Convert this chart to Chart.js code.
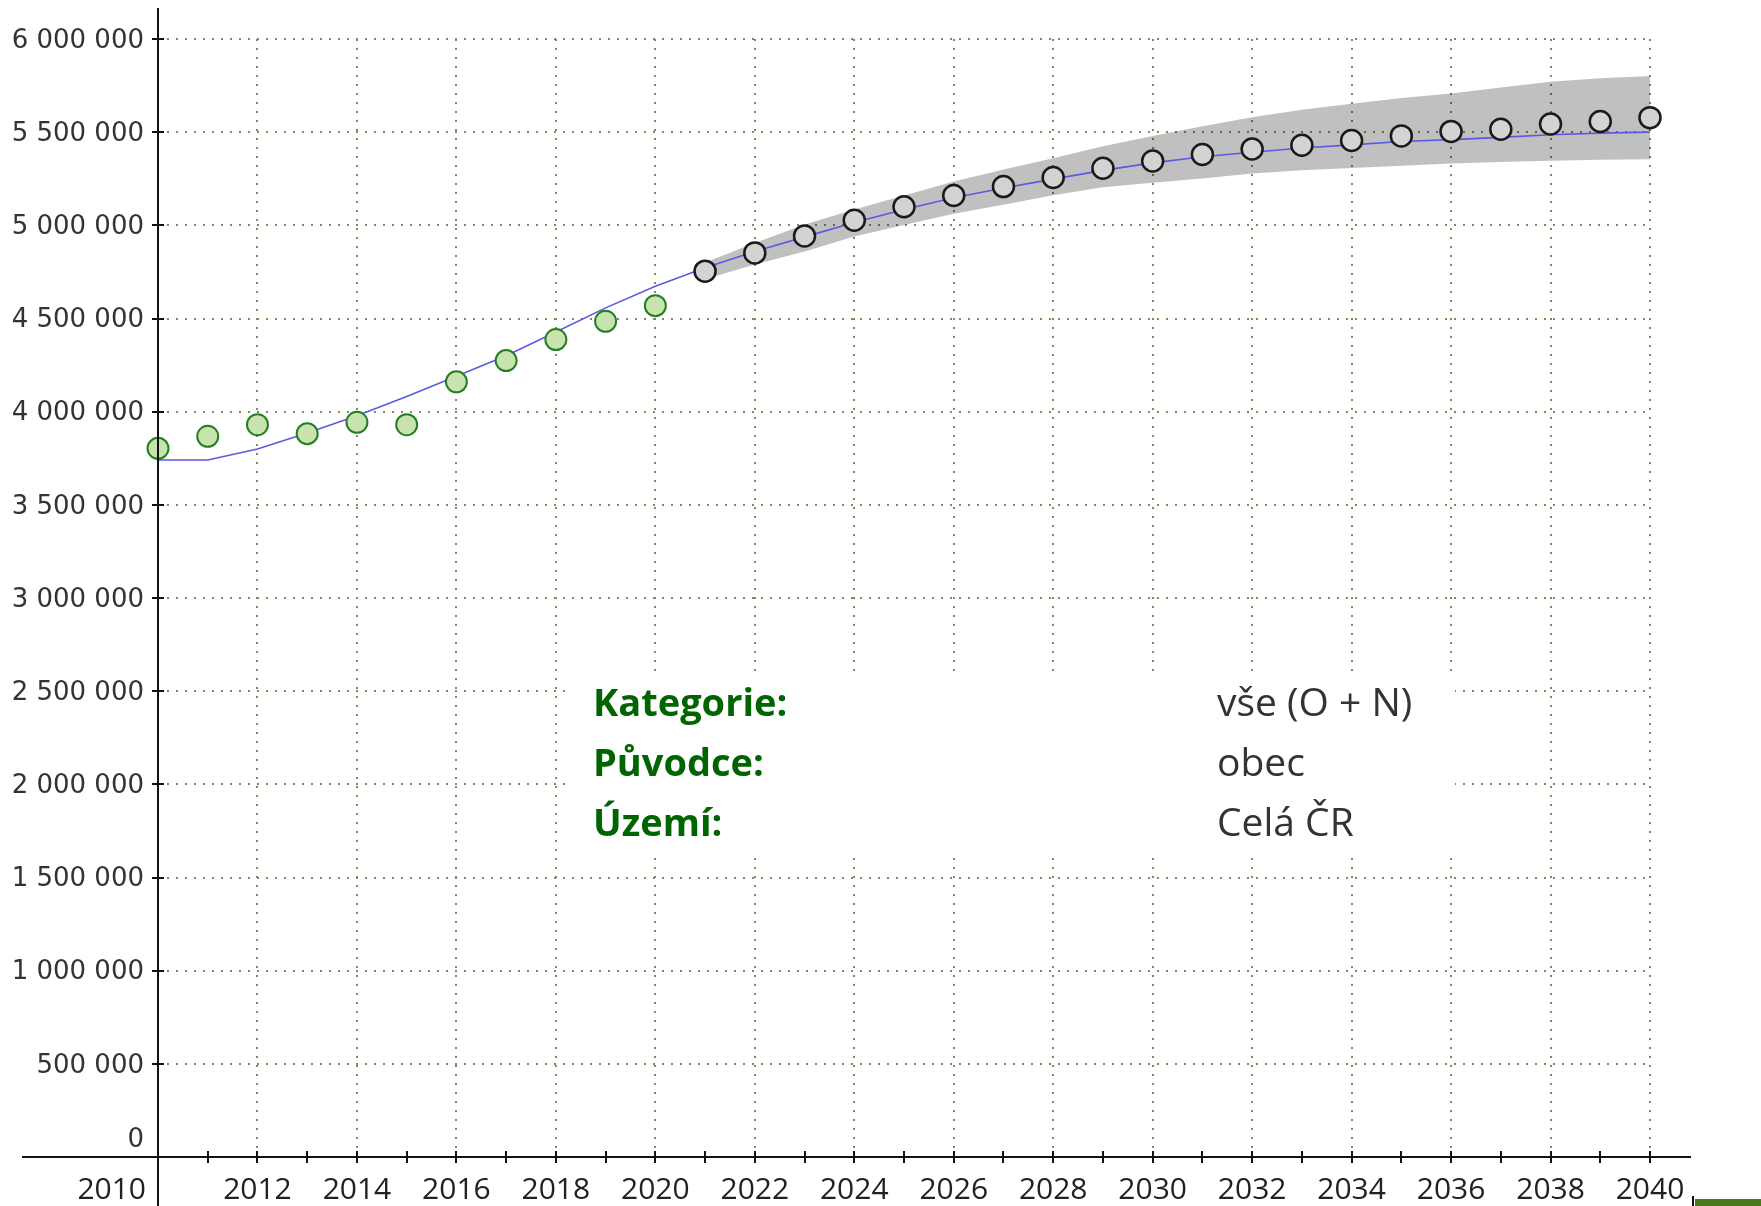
<!DOCTYPE html>
<html>
<head>
<meta charset="utf-8">
<script src="https://cdn.jsdelivr.net/npm/chart.js@4/dist/chart.umd.min.js"></script>
<style>
html,body{margin:0;padding:0;background:#fff;overflow:hidden}
canvas{display:block}
</style>
</head>
<body>
<canvas id="c" width="1761" height="1206"></canvas>
<script>
// ---- data ----
const years = [2010,2011,2012,2013,2014,2015,2016,2017,2018,2019,2020,2021,2022,2023,2024,2025,2026,2027,2028,2029,2030,2031,2032,2033,2034,2035,2036,2037,2038,2039,2040];
const histYears = [2010,2011,2012,2013,2014,2015,2016,2017,2018,2019,2020];
const histValues = [3803000,3868000,3930000,3882000,3943000,3930000,4160000,4274000,4387000,4485000,4569000];
const forecastYears = [2021,2022,2023,2024,2025,2026,2027,2028,2029,2030,2031,2032,2033,2034,2035,2036,2037,2038,2039,2040];
const forecastValues = [4754000,4852000,4943000,5027000,5100000,5160000,5208000,5257000,5306000,5345000,5380000,5410000,5430000,5455000,5480000,5504000,5516000,5544000,5557000,5578000];
const trendValues = [3741000,3741000,3800000,3886000,3978000,4082000,4190000,4300000,4428000,4557000,4673000,4772000,4860000,4938000,5015000,5085000,5148000,5200000,5248000,5295000,5335000,5368000,5392000,5415000,5432000,5450000,5460000,5472000,5486000,5495000,5500000];
const bandUpper = [4800000,4905000,5005000,5085000,5160000,5235000,5300000,5360000,5425000,5480000,5532000,5580000,5620000,5653000,5683000,5708000,5740000,5770000,5790000,5802000];
const bandLower = [4710000,4790000,4860000,4940000,5002000,5062000,5110000,5162000,5205000,5228000,5252000,5278000,5296000,5308000,5320000,5332000,5340000,5347000,5352000,5355000];
const xTickLabels = ['2010','2012','2014','2016','2018','2020','2022','2024','2026','2028','2030','2032','2034','2036','2038','2040'];
const yTickValues = [0,500000,1000000,1500000,2000000,2500000,3000000,3500000,4000000,4500000,5000000,5500000,6000000];
const yTickLabels = ['0','500 000','1 000 000','1 500 000','2 000 000','2 500 000','3 000 000','3 500 000','4 000 000','4 500 000','5 000 000','5 500 000','6 000 000'];
const infoLabels = ['Kategorie:','Původce:','Území:'];
const infoValues = ['vše (O + N)','obec','Celá ČR'];

// ---- styles ----
const DOT = '#86865f';
const Y_FONT = {family:'"DejaVu Sans"', size:26};
const X_FONT = {family:'"Open Sans"', size:30};

const pts = (xs, vs) => xs.map((x,i) => ({x:x, y:vs[i]}));

const decor = {
  id:'decor',
  beforeDatasetsDraw(chart){
    const ctx = chart.ctx;
    ctx.save();
    ctx.fillStyle = '#ffffff';
    ctx.fillRect(572, 672, 883, 184);
    ctx.textBaseline = 'alphabetic';
    ctx.textAlign = 'left';
    infoLabels.forEach((t,i) => {
      ctx.font = 'bold 38px "Open Sans"';
      ctx.fillStyle = '#006400';
      ctx.fillText(t, 593, 716 + i*60);
      ctx.font = '39px "Open Sans"';
      ctx.fillStyle = '#333333';
      ctx.fillText(infoValues[i], 1217, 716 + i*60);
    });
    ctx.restore();
  },
  afterDraw(chart){
    const {ctx, scales:{x, y}} = chart;
    const x0 = Math.round(x.getPixelForValue(years[0]));
    const y0 = Math.round(y.getPixelForValue(0));
    ctx.save();
    ctx.strokeStyle = '#111111';
    ctx.lineWidth = 2;
    ctx.beginPath();
    ctx.moveTo(x0, 8); ctx.lineTo(x0, 1206);
    ctx.moveTo(22, y0); ctx.lineTo(1691, y0);
    ctx.stroke();
    ctx.beginPath();
    yTickValues.forEach(v => {
      const py = Math.round(y.getPixelForValue(v));
      ctx.moveTo(x0 - 6, py); ctx.lineTo(x0 + 6, py);
    });
    years.slice(1).forEach(yr => {
      const px = Math.round(x.getPixelForValue(yr));
      ctx.moveTo(px, y0 - 6); ctx.lineTo(px, y0 + 6);
    });
    ctx.stroke();
    // labels that sit beside the axis crossing
    ctx.textAlign = 'right';
    ctx.textBaseline = 'middle';
    ctx.font = '26px "DejaVu Sans"';
    ctx.fillStyle = '#333333';
    ctx.fillText(yTickLabels[0], x0 - 14, y0 - 17);
    ctx.font = '30px "Open Sans"';
    ctx.fillStyle = '#222222';
    ctx.fillText(xTickLabels[0], x0 - 12, y0 + 33);
    // corner mark
    ctx.fillStyle = '#4a7a1c';
    ctx.fillRect(1695, 1199, 66, 7);
    ctx.fillStyle = '#111111';
    ctx.fillRect(1692, 1196, 2, 10);
    ctx.restore();
  }
};

new Chart(document.getElementById('c'), {
  type:'line',
  data:{
    datasets:[
      {
        label:'Skutečnost',
        data: pts(histYears, histValues),
        showLine:false,
        clip:false,
        pointStyle:'circle',
        pointRadius:10.5,
        pointBackgroundColor:'#c8e3ae',
        pointBorderColor:'#237f23',
        pointBorderWidth:2,
        order:0
      },
      {
        label:'Prognóza',
        data: pts(forecastYears, forecastValues),
        showLine:false,
        clip:false,
        pointStyle:'circle',
        pointRadius:10.5,
        pointBackgroundColor:'#d3d3d3',
        pointBorderColor:'#1a1a1a',
        pointBorderWidth:2.5,
        order:0
      },
      {
        label:'Trend',
        data: pts(years, trendValues),
        borderColor:'#5a5ae4',
        borderWidth:1.6,
        pointRadius:0,
        tension:0,
        fill:false,
        order:1
      },
      {
        label:'Horní mez',
        data: pts(forecastYears, bandUpper),
        borderWidth:0,
        borderColor:'rgba(0,0,0,0)',
        backgroundColor:'rgba(0,0,0,0.247)',
        pointRadius:0,
        fill:'+1',
        order:2
      },
      {
        label:'Dolní mez',
        data: pts(forecastYears, bandLower),
        borderWidth:0,
        borderColor:'rgba(0,0,0,0)',
        pointRadius:0,
        fill:false,
        order:2
      }
    ]
  },
  options:{
    responsive:false,
    animation:false,
    devicePixelRatio:1,
    layout:{padding:{top:39, right:111, left:0, bottom:0}},
    plugins:{legend:{display:false}, tooltip:{enabled:false}},
    scales:{
      x:{
        type:'linear',
        min:2010, max:2040,
        afterFit(s){ s.height = 49; },
        ticks:{
          stepSize:1, autoSkip:false, maxRotation:0, minRotation:0,
          padding:15, font:X_FONT, color:'#222222',
          callback(v){ const s = String(v); return (xTickLabels.indexOf(s) > 0) ? s : ''; }
        },
        grid:{
          drawTicks:false, lineWidth:2,
          color(c){ return (c.tick && xTickLabels.indexOf(String(c.tick.value)) > 0) ? DOT : 'rgba(0,0,0,0)'; }
        },
        border:{display:false, dash:[2,7]}
      },
      y:{
        min:0, max:6000000,
        afterFit(s){ s.width = 158; },
        ticks:{
          stepSize:500000, padding:14, labelOffset:2, font:Y_FONT, color:'#333333',
          callback(v){ const i = yTickValues.indexOf(v); return i > 0 ? yTickLabels[i] : ''; }
        },
        grid:{
          drawTicks:false, lineWidth:2,
          color(c){ return (c.tick && c.tick.value > 0) ? DOT : 'rgba(0,0,0,0)'; }
        },
        border:{display:false, dash:[2,7]}
      }
    }
  },
  plugins:[decor]
});
</script>
</body>
</html>
